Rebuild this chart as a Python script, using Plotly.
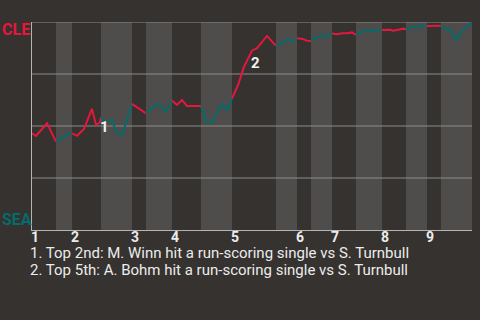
import plotly.graph_objects as go

# ---- data ----
# game progress (play units) and Cleveland win probability
play_x = [0, 1, 3.75, 6,
          7.5, 8.5, 9.5, 10,
          11.25, 13, 15, 16, 17, 17.25,
          18, 20, 21, 22.5, 23.75, 25,
          26.25, 27.5, 28.5,
          31.5, 33.5, 35,
          36.25, 37.5, 38.75, 42, 42.25,
          42.75, 43.5, 45, 47.5, 48.75, 50,
          51.5, 53, 55, 56.25, 58.75, 61,
          62.5, 63.75, 65, 66.25,
          67.75, 68.75, 69.75,
          71, 72.25, 73, 73.75, 75,
          76.25, 77.5, 78.75, 80, 81,
          82, 83.25, 84.5, 85.5, 87.5,
          89.5, 90.25, 91.75, 93, 93.5,
          95.25, 96.5, 97.25, 98.75,
          102.25,
          103.5, 104.75, 106, 107.75, 110]
cle_win_prob = [0.465, 0.452, 0.513, 0.425,
                0.440, 0.454, 0.465, 0.465,
                0.453, 0.486, 0.582, 0.505, 0.518, 0.543,
                0.521, 0.529, 0.473, 0.457, 0.529, 0.606,
                0.591, 0.577, 0.561,
                0.609, 0.569, 0.622,
                0.601, 0.625, 0.596, 0.596, 0.594,
                0.574, 0.518, 0.518, 0.606, 0.577, 0.633,
                0.697, 0.785, 0.862, 0.874, 0.933, 0.885,
                0.898, 0.917, 0.905, 0.922,
                0.918, 0.910, 0.909,
                0.925, 0.934, 0.925, 0.938, 0.945,
                0.941, 0.946, 0.946, 0.950, 0.938,
                0.950, 0.957, 0.960, 0.957, 0.962,
                0.963, 0.958, 0.965, 0.968, 0.964,
                0.977, 0.973, 0.982, 0.981,
                0.982,
                0.966, 0.962, 0.913, 0.962, 1.0]

# half-inning boundaries (play units): top 1, bot 1, top 2, ...
half_inning_bounds = [0, 6, 10, 17.25, 25, 28.5, 35, 42.25, 50, 61,
                      66.25, 69.75, 75, 81, 87.5, 93.5, 98.75, 102.25, 110]
inning_labels = ["1", "2", "3", "4", "5", "6", "7", "8", "9"]

event_labels = ["1", "2"]
event_x = [18.1, 55.75]
event_prob = [0.497, 0.805]
event_notes = ["1. Top 2nd: M. Winn hit a run-scoring single vs S. Turnbull",
               "2. Top 5th: A. Bohm hit a run-scoring single vs S. Turnbull"]

teams = ["CLE", "SEA"]
grid_levels = [0.25, 0.5, 0.75, 1.0]

# ---- style ----
BG = "#35322f"
BAND = "#4e4d4b"
RED = "#e5173c"
TEAL = "#056b6b"
TEXT = "#ececec"
GRID = "#8c8c8c"
FONT = "Roboto"

fig = go.Figure()

# line segments coloured by half inning
for i in range(len(half_inning_bounds) - 1):
    lo, hi = half_inning_bounds[i], half_inning_bounds[i + 1]
    xs = [x for x in play_x if lo <= x <= hi]
    ys = [p for x, p in zip(play_x, cle_win_prob) if lo <= x <= hi]
    fig.add_trace(go.Scatter(x=xs, y=ys, mode="lines",
                             line=dict(color=RED if i % 2 == 0 else TEAL, width=2),
                             hoverinfo="skip", showlegend=False))

shapes = []
for i in range(1, len(half_inning_bounds) - 1, 2):
    shapes.append(dict(type="rect", xref="x", yref="paper",
                       x0=half_inning_bounds[i], x1=half_inning_bounds[i + 1],
                       y0=0, y1=1, fillcolor=BAND, line=dict(width=0), layer="below"))
for g in grid_levels:
    shapes.append(dict(type="line", xref="paper", yref="y", x0=0, x1=1, y0=g, y1=g,
                       line=dict(color=GRID, width=1), layer="below"))

annotations = []
for k, lab in enumerate(inning_labels):
    annotations.append(dict(x=half_inning_bounds[2 * k], y=-0.032, xref="x", yref="paper",
                            text=f"<b>{lab}</b>", showarrow=False, xanchor="left",
                            yanchor="middle", xshift=-2, borderpad=0,
                            font=dict(family=FONT, size=14, color=TEXT)))
for lab, ex, ep in zip(event_labels, event_x, event_prob):
    annotations.append(dict(x=ex, y=ep, xref="x", yref="y", text=f"<b>{lab}</b>",
                            showarrow=False,
                            font=dict(family=FONT, size=15, color="#f2f2f2")))
annotations.append(dict(x=-32 / 440, y=1, xref="paper", yref="paper",
                        text=f"<b>{teams[0]}</b>", showarrow=False, xanchor="left",
                        yanchor="top", yshift=4,
                        font=dict(family=FONT, size=16, color=RED)))
annotations.append(dict(x=-32 / 440, y=0, xref="paper", yref="paper",
                        text=f"<b>{teams[1]}</b>", showarrow=False, xanchor="left",
                        yanchor="bottom", yshift=-1,
                        font=dict(family=FONT, size=16, color=TEAL)))
for j, (note, ny) in enumerate(zip(event_notes, [-0.109, -0.194])):
    annotations.append(dict(x=-3 / 440, y=ny, xref="paper", yref="paper",
                            text=note, showarrow=False, borderpad=0,
                            xanchor="left", yanchor="middle", align="left",
                            font=dict(family=FONT, size=15, color=TEXT)))

fig.update_layout(
    width=480, height=320, autosize=False,
    margin=dict(l=32, r=8, t=22, b=90),
    paper_bgcolor=BG, plot_bgcolor=BG,
    xaxis=dict(range=[half_inning_bounds[0], half_inning_bounds[-1]],
               showgrid=False, zeroline=False, showticklabels=False,
               showline=True, linecolor="#b4b4b4", linewidth=1, ticks=""),
    yaxis=dict(range=[0, 1], showgrid=False, showticklabels=False,
               zeroline=False, showline=True, linecolor="#b4b4b4", linewidth=1,
               ticks=""),
    shapes=shapes, annotations=annotations,
)

fig.write_html("out.html")
